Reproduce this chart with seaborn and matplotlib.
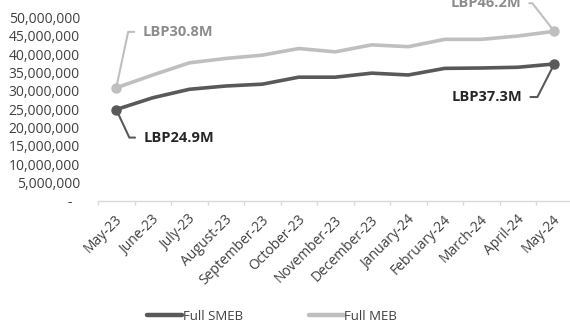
import matplotlib
matplotlib.use("Agg")
import matplotlib.pyplot as plt
import matplotlib.ticker as mticker
import matplotlib.transforms as mtransforms
import numpy as np
import pandas as pd
import seaborn as sns

months = ["May-23", "June-23", "July-23", "August-23", "September-23", "October-23",
          "November-23", "December-23", "January-24", "February-24", "March-24",
          "April-24", "May-24"]
smeb = [24.9, 28.1, 30.4, 31.3, 31.8, 33.7, 33.7, 34.8, 34.3, 36.1, 36.2, 36.4, 37.3]
meb = [30.8, 34.3, 37.6, 38.8, 39.7, 41.5, 40.6, 42.5, 42.0, 44.0, 44.0, 44.9, 46.2]
series_names = ["Full SMEB", "Full MEB"]
colors = {"Full SMEB": "#595959", "Full MEB": "#bfbfbf"}
label_colors = {"Full SMEB": "#262626", "Full MEB": "#8c8c8c"}

sns.set_theme(style="white")
plt.rcParams["font.family"] = ["Open Sans", "DejaVu Sans"]

df = pd.DataFrame({
    "month": months * 2,
    "pos": list(range(len(months))) * 2,
    "value": [v * 1e6 for v in smeb] + [v * 1e6 for v in meb],
    "series": [series_names[0]] * len(months) + [series_names[1]] * len(months),
})

fig = plt.figure(figsize=(5.70, 3.31), dpi=100)
ax = fig.add_axes([98 / 570, 130 / 331, 474.5 / 570, 183.7 / 331])

sns.lineplot(data=df, x="pos", y="value", hue="series", palette=colors,
             hue_order=series_names, linewidth=2.6, ax=ax, legend=False,
             solid_capstyle="round")

# markers on the first and last month of each series
ends = df[df["pos"].isin([0, len(months) - 1])]
for name in series_names:
    sub = ends[ends["series"] == name]
    ax.plot(sub["pos"], sub["value"], "o", color=colors[name], ms=6.5, zorder=5)

ax.set_xlim(-0.5, len(months) - 0.5)
ax.set_ylim(0, 50e6)
ax.yaxis.set_major_locator(mticker.MultipleLocator(5e6))
ax.yaxis.set_major_formatter(mticker.FuncFormatter(
    lambda v, p: "-  " if v == 0 else f"{v:,.0f}"))
ax.set_xticks(range(len(months)))
ax.set_xticklabels(months, rotation=45, ha="right", va="center",
                   rotation_mode="anchor")
ax.set_xticks(np.arange(-0.5, len(months)), minor=True)
ax.tick_params(axis="x", which="major", length=0, pad=12, labelsize=10,
               labelcolor="#404040")
ax.tick_params(axis="x", which="minor", length=3, color="#d9d9d9", width=1,
               bottom=True, direction="out")
ax.tick_params(axis="y", length=0, pad=13, labelsize=10, labelcolor="#404040")
shift = mtransforms.ScaledTranslation(4 / 100, 0, fig.dpi_scale_trans)
for lab in ax.get_xticklabels():
    lab.set_transform(lab.get_transform() + shift)
ax.set_xlabel("")
ax.set_ylabel("")
for side in ["top", "right", "left"]:
    ax.spines[side].set_visible(False)
ax.spines["bottom"].set_color("#d9d9d9")
ax.spines["bottom"].set_linewidth(1)

# value callouts at both ends
callouts = [
    ("Full MEB", 0, meb[0], (18.7, 40.3), "left", 78),
    ("Full SMEB", 0, smeb[0], (19.4, -20.2), "left", -65),
    ("Full MEB", len(months) - 1, meb[-1], (-23.8, 20.2), "right", 128),
    ("Full SMEB", len(months) - 1, smeb[-1], (-23.0, -23.8), "right", 63),
]
for name, i, val, offset, ha, angle in callouts:
    ax.annotate(f"LBP{val:.1f}M", xy=(i, val * 1e6), xytext=offset,
                textcoords="offset points", ha=ha, va="center",
                fontsize=10.5, fontweight="bold", color=label_colors[name],
                annotation_clip=False,
                arrowprops=dict(arrowstyle="-", color=colors[name], lw=1.5,
                                shrinkA=3.5, shrinkB=0,
                                relpos=(0, 0.5) if ha == "left" else (1, 0.5),
                                connectionstyle=f"angle,angleA=0,angleB={angle},rad=0"))

handles = [plt.Line2D([], [], color=colors[n], lw=3.2) for n in series_names]
fig.legend(handles, series_names, loc="center", bbox_to_anchor=(272 / 570, 1 - 316 / 331),
           ncol=2, frameon=False, fontsize=9.5, handlelength=2.65, handletextpad=0.05,
           columnspacing=5.0, labelcolor="#404040")

fig.savefig("out.png", dpi=100)
